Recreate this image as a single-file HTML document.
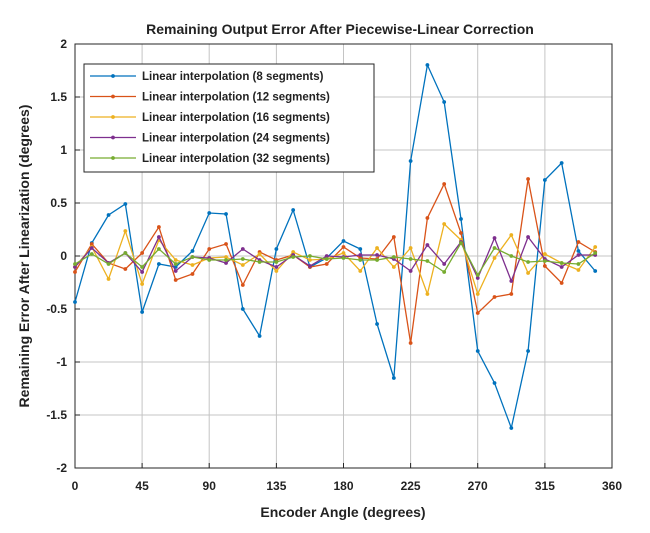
<!DOCTYPE html>
<html><head><meta charset="utf-8"><style>html,body{margin:0;padding:0;background:#fff}svg{display:block;font-family:"Liberation Sans",Arial,sans-serif}</style></head>
<body>
<svg width="650" height="533" viewBox="0 0 650 533" xmlns="http://www.w3.org/2000/svg">
<rect width="650" height="533" fill="#fff"/>
<text x="340" y="34" text-anchor="middle" font-size="14" font-weight="bold" fill="#222">Remaining Output Error After Piecewise-Linear Correction</text>
<g id="grid" stroke="#c4c4c4" stroke-width="1">
<line x1="142.1" y1="44" x2="142.1" y2="468"/><line x1="209.2" y1="44" x2="209.2" y2="468"/><line x1="276.4" y1="44" x2="276.4" y2="468"/><line x1="343.5" y1="44" x2="343.5" y2="468"/><line x1="410.6" y1="44" x2="410.6" y2="468"/><line x1="477.7" y1="44" x2="477.7" y2="468"/><line x1="544.9" y1="44" x2="544.9" y2="468"/>
<line x1="75" y1="97" x2="612" y2="97"/><line x1="75" y1="150" x2="612" y2="150"/><line x1="75" y1="203" x2="612" y2="203"/><line x1="75" y1="256" x2="612" y2="256"/><line x1="75" y1="309" x2="612" y2="309"/><line x1="75" y1="362" x2="612" y2="362"/><line x1="75" y1="415" x2="612" y2="415"/>
</g>
<rect x="75" y="44" width="537" height="424" fill="none" stroke="#262626" stroke-width="1"/>
<g stroke="#262626" stroke-width="1">
<line x1="142.1" y1="468" x2="142.1" y2="463"/><line x1="209.2" y1="468" x2="209.2" y2="463"/><line x1="276.4" y1="468" x2="276.4" y2="463"/><line x1="343.5" y1="468" x2="343.5" y2="463"/><line x1="410.6" y1="468" x2="410.6" y2="463"/><line x1="477.7" y1="468" x2="477.7" y2="463"/><line x1="544.9" y1="468" x2="544.9" y2="463"/>
<line x1="75" y1="97" x2="80" y2="97"/><line x1="75" y1="150" x2="80" y2="150"/><line x1="75" y1="203" x2="80" y2="203"/><line x1="75" y1="256" x2="80" y2="256"/><line x1="75" y1="309" x2="80" y2="309"/><line x1="75" y1="362" x2="80" y2="362"/><line x1="75" y1="415" x2="80" y2="415"/>
</g>
<g font-size="12" font-weight="bold" fill="#222" text-anchor="middle">
<text x="75" y="490">0</text><text x="142.1" y="490">45</text><text x="209.2" y="490">90</text><text x="276.4" y="490">135</text><text x="343.5" y="490">180</text><text x="410.6" y="490">225</text><text x="477.7" y="490">270</text><text x="544.9" y="490">315</text><text x="612" y="490">360</text>
</g>
<g font-size="12" font-weight="bold" fill="#222" text-anchor="end">
<text x="67" y="48">2</text><text x="67" y="101">1.5</text><text x="67" y="154">1</text><text x="67" y="207">0.5</text><text x="67" y="260">0</text><text x="67" y="313">-0.5</text><text x="67" y="366">-1</text><text x="67" y="419">-1.5</text><text x="67" y="472">-2</text>
</g>
<text x="343" y="517" text-anchor="middle" font-size="14" font-weight="bold" fill="#222">Encoder Angle (degrees)</text>
<text transform="translate(29,256) rotate(-90)" text-anchor="middle" font-size="14" font-weight="bold" fill="#222">Remaining Error After Linearization (degrees)</text>
<g fill="none" stroke-width="1.3" id="series"></g>
<g id="legend">
<rect x="84" y="64" width="290" height="108" fill="#fff" stroke="#262626" stroke-width="1"/>
</g>
<script>
const ys={
"#0072BD":[302,243,215,204,312,264,267,251,213,214,309,336,249,210,267,258,241,249,324,378,161,65,102,219,351,383,428,351,180,163,251,271],
"#D95319":[272,244,263,269,253,227,280,274,249,244,285,252,260,255,267,264,247,258,259,237,343,218,184,233,313,297,294,179,266,283,242,252],
"#EDB120":[267,247,279,231,284,240,260,265,258,257,265,254,271,252,260,259,253,271,248,267,248,294,224,240,294,258,235,273,254,263,270,247],
"#7E2F8E":[267,248,263,253,272,237,271,257,258,263,249,260,267,255,266,256,257,255,255,259,271,245,264,242,278,238,281,237,259,267,255,255],
"#77AC30":[264,254,264,253,267,249,264,257,260,260,259,262,262,257,256,259,258,260,260,257,259,261,272,243,275,248,256,262,261,263,264,253]};
const names=["Linear interpolation (8 segments)","Linear interpolation (12 segments)","Linear interpolation (16 segments)","Linear interpolation (24 segments)","Linear interpolation (32 segments)"];
const NS="http://www.w3.org/2000/svg";
const g=document.getElementById("series"),lg=document.getElementById("legend");
let k=0;
for(const c in ys){
 const pts=ys[c].map((y,i)=>[75+i*16.781,y]);
 const pl=document.createElementNS(NS,"polyline");
 pl.setAttribute("points",pts.map(p=>p.join(",")).join(" "));pl.setAttribute("stroke",c);g.appendChild(pl);
 pts.forEach(p=>{const ci=document.createElementNS(NS,"circle");ci.setAttribute("cx",p[0]);ci.setAttribute("cy",p[1]);ci.setAttribute("r",1.9);ci.setAttribute("fill",c);ci.setAttribute("stroke","none");g.appendChild(ci);});
 const ly=76+k*20.5;
 const l=document.createElementNS(NS,"line");l.setAttribute("x1",90);l.setAttribute("x2",136);l.setAttribute("y1",ly);l.setAttribute("y2",ly);l.setAttribute("stroke",c);l.setAttribute("stroke-width",1.3);lg.appendChild(l);
 const ci=document.createElementNS(NS,"circle");ci.setAttribute("cx",113);ci.setAttribute("cy",ly);ci.setAttribute("r",1.9);ci.setAttribute("fill",c);lg.appendChild(ci);
 const t=document.createElementNS(NS,"text");t.setAttribute("x",142);t.setAttribute("y",ly+4);t.setAttribute("font-size","11.5");t.setAttribute("font-weight","bold");t.setAttribute("fill","#222");t.textContent=names[k];lg.appendChild(t);
 k++;
}
</script>
</svg>
</body></html>
